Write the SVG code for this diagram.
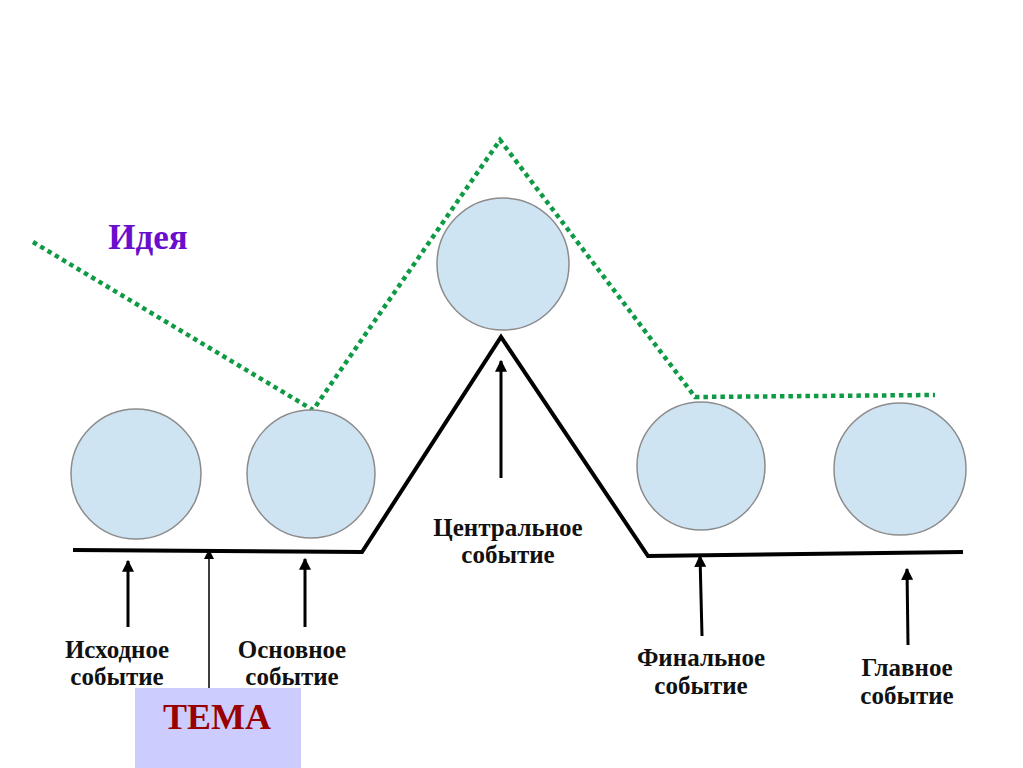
<svg xmlns="http://www.w3.org/2000/svg" width="1023" height="768" viewBox="0 0 1023 768">
<defs>
<style>
.node{fill:#cfe4f2;stroke:#8c8c8c;stroke-width:1.5}
.lbl{font-family:"Liberation Serif","DejaVu Serif",serif;font-weight:bold;font-size:25px;fill:#111;text-anchor:middle}
.arr{stroke:#000;stroke-width:3;fill:none;marker-end:url(#ah)}
</style>
<marker id="ah" viewBox="0 0 10 10" refX="9" refY="5" markerWidth="4" markerHeight="4" orient="auto" markerUnits="strokeWidth">
<path d="M0,0 L10,5 L0,10 z" fill="#000"/>
</marker>
<marker id="ah2" viewBox="0 0 10 10" refX="9" refY="5" markerWidth="7" markerHeight="7" orient="auto" markerUnits="strokeWidth">
<path d="M0,0 L10,5 L0,10 z" fill="#000"/>
</marker>
</defs>
<rect width="1023" height="768" fill="#fff"/>
<g id="connectors">
<polyline points="33,242 313,410 500,140 695,397 935,395" fill="none" stroke="#0f9a45" stroke-width="4.5" stroke-dasharray="4.5 4"/>
<polyline points="73,550 362,552 501,337 648,556 963,552" fill="none" stroke="#000" stroke-width="4" stroke-linejoin="miter"/>
<line class="arr" x1="128" y1="627" x2="128" y2="561"/>
<line class="arr" x1="305" y1="627" x2="305" y2="559"/>
<line x1="209" y1="688" x2="209" y2="550" stroke="#000" stroke-width="1.5" marker-end="url(#ah2)"/>
<line class="arr" x1="501" y1="478" x2="501" y2="361"/>
<line class="arr" x1="702" y1="636" x2="700" y2="556"/>
<line class="arr" x1="908" y1="645" x2="907" y2="569"/>
</g>
<g id="n1"><circle class="node" cx="136" cy="474" r="65"/></g>
<g id="n2"><circle class="node" cx="311" cy="474" r="64"/></g>
<g id="n3"><circle class="node" cx="503" cy="264" r="66"/></g>
<g id="n4"><circle class="node" cx="701" cy="466" r="64"/></g>
<g id="n5"><circle class="node" cx="900" cy="469" r="66"/></g>
<g id="idea"><text x="148" y="249" font-family="Liberation Serif,serif" font-weight="bold" font-size="35" fill="#6a0dcc" text-anchor="middle">Идея</text></g>
<g id="l1"><text class="lbl" x="117" y="658">Исходное</text><text class="lbl" x="117" y="685">событие</text></g>
<g id="l2"><text class="lbl" x="292" y="658">Основное</text><text class="lbl" x="292" y="685">событие</text></g>
<g id="l3"><text class="lbl" x="508" y="536">Центральное</text><text class="lbl" x="508" y="563">событие</text></g>
<g id="l4"><text class="lbl" x="701" y="666">Финальное</text><text class="lbl" x="701" y="694">событие</text></g>
<g id="l5"><text class="lbl" x="907" y="676">Главное</text><text class="lbl" x="907" y="704">событие</text></g>
<g id="tema">
<rect x="135" y="688" width="166" height="80" fill="#ccccff"/>
<text x="217" y="729" font-family="Liberation Serif,serif" font-weight="bold" font-size="36" fill="#990000" text-anchor="middle">ТЕМА</text>
</g>
</svg>
